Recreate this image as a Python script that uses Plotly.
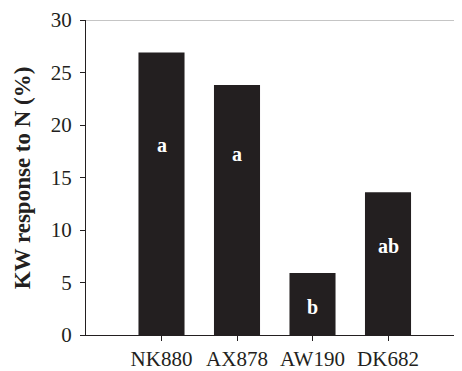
import plotly.graph_objects as go

hybrids = ["NK880", "AX878", "AW190", "DK682"]
kw_response = [26.9, 23.8, 5.9, 13.6]
letters = ["a", "a", "b", "ab"]
letter_y = [18.1, 17.2, 2.7, 8.5]
y_ticks = [0, 5, 10, 15, 20, 25, 30]

bar_color = "#231f20"
font_family = "Liberation Serif"

fig = go.Figure()
fig.add_trace(go.Bar(
    x=list(range(len(hybrids))),
    y=kw_response,
    width=0.61,
    marker=dict(color=bar_color, line=dict(width=0)),
    hoverinfo="skip",
))

for i, (lab, ly) in enumerate(zip(letters, letter_y)):
    fig.add_annotation(x=i, y=ly, text=f"<b>{lab}</b>", showarrow=False,
                       font=dict(family=font_family, size=20, color="white"),
                       xanchor="center", yanchor="middle")

fig.add_annotation(xref="paper", yref="paper", x=-0.168, y=0.5,
                   text="<b>KW response to N (%)</b>", textangle=-90,
                   showarrow=False, xanchor="center", yanchor="middle",
                   font=dict(family=font_family, size=23, color=bar_color))

fig.add_shape(type="line", xref="paper", yref="y", x0=0, x1=1, y0=30, y1=30,
              line=dict(color="#8c8c8c", width=1.2))

fig.update_layout(
    width=454, height=363,
    margin=dict(l=78, r=0, t=12, b=28),
    plot_bgcolor="white", paper_bgcolor="white",
    showlegend=False,
    font=dict(family=font_family, size=20, color=bar_color),
    xaxis=dict(
        range=[-1.0, 3.98],
        tickmode="array", tickvals=list(range(len(hybrids))), ticktext=hybrids,
        showline=True, linecolor=bar_color, linewidth=1.2,
        ticks="outside", ticklen=5, tickcolor=bar_color, tickwidth=1,
        showgrid=False, zeroline=False,
        tickfont=dict(family=font_family, size=21, color=bar_color),
    ),
    yaxis=dict(
        range=[0, 30],
        tickmode="array", tickvals=y_ticks,
        showline=True, linecolor=bar_color, linewidth=1.2,
        ticks="outside", ticklen=5, tickcolor=bar_color, tickwidth=1,
        showgrid=False, zeroline=False, ticklabelstandoff=4,
        tickfont=dict(family=font_family, size=21, color=bar_color),
    ),
)

fig.write_html("out.html")
